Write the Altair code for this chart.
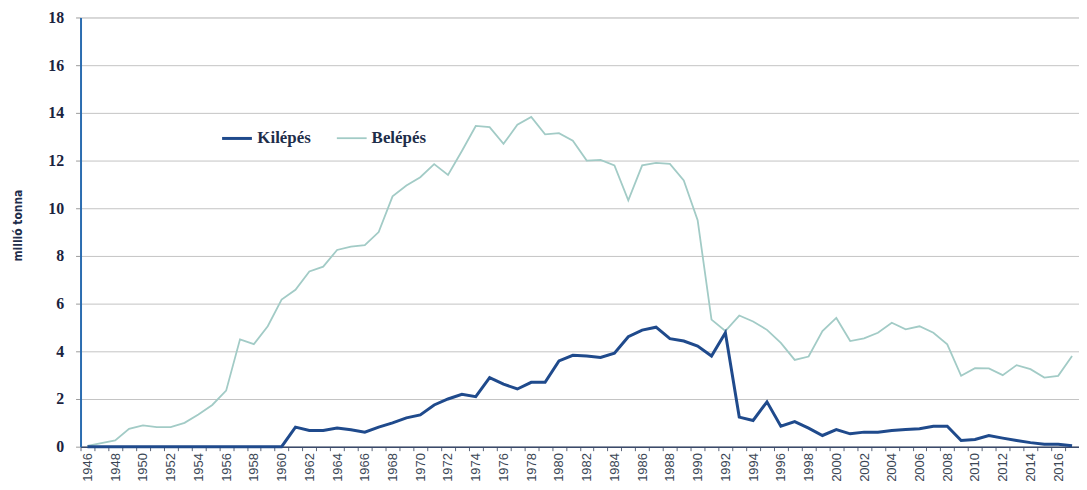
import altair as alt
import pandas as pd

years = list(range(1946, 2018))

kilepes = [0, 0, 0, 0, 0, 0, 0, 0, 0, 0, 0, 0, 0, 0, 0,
           0.82, 0.68, 0.68, 0.78, 0.71, 0.61, 0.82, 1.0, 1.21, 1.33,
           1.75, 2.0, 2.2, 2.1, 2.9, 2.62, 2.42, 2.7, 2.7, 3.6,
           3.83, 3.8, 3.74, 3.92, 4.61, 4.89, 5.01, 4.53, 4.43, 4.22,
           3.8, 4.78, 1.24, 1.1, 1.88, 0.86, 1.05, 0.78, 0.47, 0.72,
           0.54, 0.61, 0.61, 0.68, 0.72, 0.75, 0.86, 0.86, 0.26, 0.3,
           0.47, 0.36, 0.26, 0.17, 0.1, 0.1, 0.04]

belepes = [0.03, 0.15, 0.26, 0.75, 0.89, 0.82, 0.82, 1.0, 1.35, 1.75,
           2.35, 4.5, 4.3, 5.05, 6.17, 6.58, 7.35, 7.55, 8.25, 8.39,
           8.45, 9.0, 10.5, 10.95, 11.3, 11.85, 11.4, 12.4, 13.45, 13.4,
           12.7, 13.5, 13.83, 13.1, 13.15, 12.83, 12.0, 12.03, 11.8, 10.33,
           11.8, 11.9, 11.86, 11.17, 9.5, 5.33, 4.85, 5.5, 5.25, 4.9,
           4.35, 3.64, 3.78, 4.85, 5.4, 4.43, 4.54, 4.78, 5.2, 4.92,
           5.05, 4.78, 4.29, 2.97, 3.29, 3.28, 3.0, 3.42, 3.25, 2.9,
           2.97, 3.8]

series_names = ["Kilépés", "Belépés"]
series_colors = ["#1f4a8c", "#a2cbc6"]
series_widths = [3, 1.8]
y_ticks = list(range(0, 19, 2))

rows = []
for y, k, b in zip(years, kilepes, belepes):
    rows.append({"year": y, "series": "Kilépés", "value": k})
    rows.append({"year": y, "series": "Belépés", "value": b})
df = pd.DataFrame(rows)

x_enc = alt.X(
    "year:O",
    bandPosition=0.5,
    scale=alt.Scale(type="band", paddingInner=0, paddingOuter=0),
    axis=alt.Axis(
        title=None,
        labelAngle=-90,
        labelExpr="datum.value % 2 == 0 ? datum.label : ''",
        tickBand="extent",
        labelFont="Liberation Sans",
        labelFontSize=13,
        labelColor="#3a4654",
        labelPadding=2,
        tickSize=4,
        tickColor="#5a6478",
        domainColor="#3b4a6b",
        domainWidth=1.5,
        grid=False,
        labelOverlap=False,
    ),
)

y_enc = alt.Y(
    "value:Q",
    scale=alt.Scale(domain=[0, 18], nice=False),
    axis=alt.Axis(
        values=y_ticks,
        title="millió tonna",
        titleFont="DejaVu Sans Condensed",
        titleFontSize=12,
        titleFontWeight="bold",
        titleColor="#1e2d4a",
        titleAngle=-90,
        titleX=-63,
        titleY=209,
        titleAlign="center",
        titleBaseline="middle",
        labelFont="Liberation Serif",
        labelFontWeight="bold",
        labelFontSize=16,
        labelColor="#1a2340",
        labelPadding=12,
        tickSize=5,
        tickColor="#9a9a9a",
        domainColor="#2b6cb0",
        domainWidth=2,
        grid=True,
        gridColor="#c4c4c4",
        gridWidth=1,
    ),
)

color_enc = alt.Color(
    "series:N",
    scale=alt.Scale(domain=series_names, range=series_colors),
    legend=alt.Legend(
        title=None,
        orient="none",
        legendX=141,
        legendY=105,
        direction="horizontal",
        symbolType="stroke",
        symbolSize=900,
        labelFont="Liberation Serif",
        labelFontWeight="bold",
        labelFontSize=17,
        labelColor="#1e2d4a",
        labelOffset=4,
        columnPadding=22,
    ),
)

sw_enc = alt.StrokeWidth(
    "series:N",
    scale=alt.Scale(domain=series_names, range=series_widths),
    legend=alt.Legend(title=None),
)

base = alt.Chart(df).mark_line().encode(x=x_enc, y=y_enc, color=color_enc, strokeWidth=sw_enc)

chart = alt.layer(
    base.transform_filter(alt.datum.series == "Belépés"),
    base.transform_filter(alt.datum.series == "Kilépés"),
).properties(
    width=1005,
    height=432,
    autosize=alt.AutoSizeParams(type="none"),
    padding={"left": 73, "top": 8, "right": 0, "bottom": 34},
).configure_view(stroke=None).configure(background="white")

chart.save("out.html", embed_options={"renderer": "svg", "actions": False})
